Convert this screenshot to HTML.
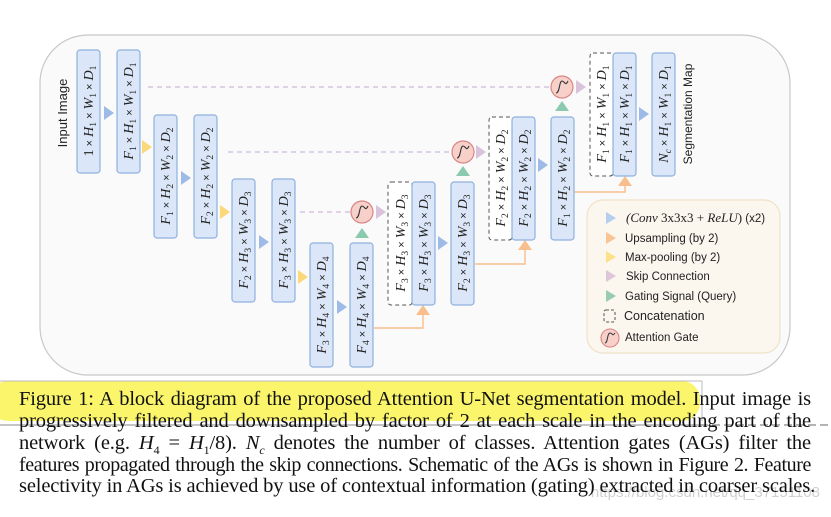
<!DOCTYPE html>
<html><head><meta charset="utf-8">
<style>
body{margin:0;width:831px;height:517px;background:#fff;position:relative;overflow:hidden}
svg{position:absolute;left:0;top:0}
.b{fill:#dbe7f8;stroke:#8eb0de;stroke-width:1.2}
.d{fill:#fff;stroke:#555;stroke-width:1;stroke-dasharray:4 3}
.t{font-family:"Liberation Serif",serif;font-style:italic;font-size:14px;fill:#222}
.s{font-size:9.5px;font-style:normal}
.x{font-family:"Liberation Sans",sans-serif;font-style:normal;font-size:11px}
.lg{font-family:"Liberation Sans",sans-serif;font-size:11.5px;fill:#222}
.cap{position:absolute;left:19px;width:792px;font-family:"Liberation Serif",serif;font-size:20.5px;letter-spacing:-0.15px;line-height:22px;color:#111;text-align:justify;text-align-last:justify;white-space:nowrap}
</style></head><body>
<svg width="831" height="517" viewBox="0 0 831 517">
<rect x="40" y="35" width="750" height="340" rx="48" fill="#fafafa" stroke="#c8c8c8" stroke-width="1.2"/>
<g stroke="#cdbbdb" stroke-width="1.3" stroke-dasharray="5 4" fill="none">
<line x1="148" y1="87" x2="550" y2="87"/>
<line x1="228" y1="152" x2="451" y2="152"/>
<line x1="300" y1="212" x2="350" y2="212"/>
</g>
<g stroke="#f8bf8c" stroke-width="1.4" fill="none">
<polyline points="374,328 423,328 423,314"/>
<polyline points="475,264 525,264 525,249"/>
<polyline points="574,192 625,192 625,185"/>
</g>
<g fill="#f8bf8c">
<polygon points="416,315 430,315 423,305"/>
<polygon points="518,250 532,250 525,240"/>
<polygon points="618,186 632,186 625,176"/>
</g>
<g fill="#9dbbe6">
<polygon points="104,106 104,120 114,113"/>
<polygon points="181,171 181,185 191,178"/>
<polygon points="259,235 259,249 269,242"/>
<polygon points="337,300 337,314 347,307"/>
<polygon points="438,236 438,250 448,243"/>
<polygon points="538,158 538,172 548,165"/>
<polygon points="639,107 639,121 649,114"/>
</g>
<g fill="#fbd97a">
<polygon points="142,140 142,154 152,147"/>
<polygon points="220,205 220,219 230,212"/>
<polygon points="298,270 298,284 308,277"/>
</g>
<g fill="#8ccab0">
<polygon points="355,238 369,238 362,228"/>
<polygon points="456,176 470,176 463,166"/>
<polygon points="555,111 569,111 562,101"/>
</g>
<g fill="#d9c3db">
<polygon points="376,205 376,219 386,212"/>
<polygon points="476,145 476,159 486,152"/>
<polygon points="576,80 576,94 586,87"/>
</g>
<g>
<circle cx="362" cy="212" r="11" fill="#f6d0c9" stroke="#d98585" stroke-width="1.2"/>
<path d="M356,218 C360,218 359,206 362,206 S365,212 368,206" fill="none" stroke="#333" stroke-width="1.1"/>
<circle cx="463" cy="152" r="11" fill="#f6d0c9" stroke="#d98585" stroke-width="1.2"/>
<path d="M457,158 C461,158 460,146 463,146 S466,152 469,146" fill="none" stroke="#333" stroke-width="1.1"/>
<circle cx="562" cy="87" r="11" fill="#f6d0c9" stroke="#d98585" stroke-width="1.2"/>
<path d="M556,93 C560,93 559,81 562,81 S565,87 568,81" fill="none" stroke="#333" stroke-width="1.1"/>
</g>
<rect class="b" x="77" y="50" width="23" height="123" rx="3"/>
<rect class="b" x="117" y="50" width="23" height="123" rx="3"/>
<rect class="b" x="154" y="115" width="23" height="123" rx="3"/>
<rect class="b" x="194" y="115" width="23" height="123" rx="3"/>
<rect class="b" x="232" y="179" width="23" height="123" rx="3"/>
<rect class="b" x="272" y="179" width="23" height="123" rx="3"/>
<rect class="b" x="310" y="243" width="23" height="124" rx="3"/>
<rect class="b" x="350" y="243" width="23" height="124" rx="3"/>
<rect class="d" x="388" y="182" width="24" height="123" rx="3"/>
<rect class="b" x="412" y="182" width="23" height="123" rx="3"/>
<rect class="b" x="451" y="182" width="23" height="123" rx="3"/>
<rect class="d" x="489" y="117" width="23" height="123" rx="3"/>
<rect class="b" x="512" y="117" width="23" height="123" rx="3"/>
<rect class="b" x="551" y="117" width="23" height="123" rx="3"/>
<rect class="d" x="590" y="53" width="23" height="123" rx="3"/>
<rect class="b" x="613" y="53" width="23" height="123" rx="3"/>
<rect class="b" x="652" y="53" width="23" height="123" rx="3"/>

<text class="t" transform="translate(93,111) rotate(-90)" text-anchor="middle"><tspan style="font-style:normal">1</tspan><tspan class="x"> × </tspan>H<tspan class="s" dy="3">1</tspan><tspan class="x" dy="-3"> × </tspan>W<tspan class="s" dy="3">1</tspan><tspan class="x" dy="-3"> × </tspan>D<tspan class="s" dy="3">1</tspan></text>
<text class="t" transform="translate(133,111) rotate(-90)" text-anchor="middle">F<tspan class="s" dy="3">1</tspan><tspan class="x" dy="-3"> × </tspan>H<tspan class="s" dy="3">1</tspan><tspan class="x" dy="-3"> × </tspan>W<tspan class="s" dy="3">1</tspan><tspan class="x" dy="-3"> × </tspan>D<tspan class="s" dy="3">1</tspan></text>
<text class="t" transform="translate(170,176) rotate(-90)" text-anchor="middle">F<tspan class="s" dy="3">1</tspan><tspan class="x" dy="-3"> × </tspan>H<tspan class="s" dy="3">2</tspan><tspan class="x" dy="-3"> × </tspan>W<tspan class="s" dy="3">2</tspan><tspan class="x" dy="-3"> × </tspan>D<tspan class="s" dy="3">2</tspan></text>
<text class="t" transform="translate(210,176) rotate(-90)" text-anchor="middle">F<tspan class="s" dy="3">2</tspan><tspan class="x" dy="-3"> × </tspan>H<tspan class="s" dy="3">2</tspan><tspan class="x" dy="-3"> × </tspan>W<tspan class="s" dy="3">2</tspan><tspan class="x" dy="-3"> × </tspan>D<tspan class="s" dy="3">2</tspan></text>
<text class="t" transform="translate(248,240) rotate(-90)" text-anchor="middle">F<tspan class="s" dy="3">2</tspan><tspan class="x" dy="-3"> × </tspan>H<tspan class="s" dy="3">3</tspan><tspan class="x" dy="-3"> × </tspan>W<tspan class="s" dy="3">3</tspan><tspan class="x" dy="-3"> × </tspan>D<tspan class="s" dy="3">3</tspan></text>
<text class="t" transform="translate(288,240) rotate(-90)" text-anchor="middle">F<tspan class="s" dy="3">3</tspan><tspan class="x" dy="-3"> × </tspan>H<tspan class="s" dy="3">3</tspan><tspan class="x" dy="-3"> × </tspan>W<tspan class="s" dy="3">3</tspan><tspan class="x" dy="-3"> × </tspan>D<tspan class="s" dy="3">3</tspan></text>
<text class="t" transform="translate(326,305) rotate(-90)" text-anchor="middle">F<tspan class="s" dy="3">3</tspan><tspan class="x" dy="-3"> × </tspan>H<tspan class="s" dy="3">4</tspan><tspan class="x" dy="-3"> × </tspan>W<tspan class="s" dy="3">4</tspan><tspan class="x" dy="-3"> × </tspan>D<tspan class="s" dy="3">4</tspan></text>
<text class="t" transform="translate(366,305) rotate(-90)" text-anchor="middle">F<tspan class="s" dy="3">4</tspan><tspan class="x" dy="-3"> × </tspan>H<tspan class="s" dy="3">4</tspan><tspan class="x" dy="-3"> × </tspan>W<tspan class="s" dy="3">4</tspan><tspan class="x" dy="-3"> × </tspan>D<tspan class="s" dy="3">4</tspan></text>
<text class="t" transform="translate(405,243) rotate(-90)" text-anchor="middle">F<tspan class="s" dy="3">3</tspan><tspan class="x" dy="-3"> × </tspan>H<tspan class="s" dy="3">3</tspan><tspan class="x" dy="-3"> × </tspan>W<tspan class="s" dy="3">3</tspan><tspan class="x" dy="-3"> × </tspan>D<tspan class="s" dy="3">3</tspan></text>
<text class="t" transform="translate(428,243) rotate(-90)" text-anchor="middle">F<tspan class="s" dy="3">3</tspan><tspan class="x" dy="-3"> × </tspan>H<tspan class="s" dy="3">3</tspan><tspan class="x" dy="-3"> × </tspan>W<tspan class="s" dy="3">3</tspan><tspan class="x" dy="-3"> × </tspan>D<tspan class="s" dy="3">3</tspan></text>
<text class="t" transform="translate(467,243) rotate(-90)" text-anchor="middle">F<tspan class="s" dy="3">2</tspan><tspan class="x" dy="-3"> × </tspan>H<tspan class="s" dy="3">3</tspan><tspan class="x" dy="-3"> × </tspan>W<tspan class="s" dy="3">3</tspan><tspan class="x" dy="-3"> × </tspan>D<tspan class="s" dy="3">3</tspan></text>
<text class="t" transform="translate(505,178) rotate(-90)" text-anchor="middle">F<tspan class="s" dy="3">2</tspan><tspan class="x" dy="-3"> × </tspan>H<tspan class="s" dy="3">2</tspan><tspan class="x" dy="-3"> × </tspan>W<tspan class="s" dy="3">2</tspan><tspan class="x" dy="-3"> × </tspan>D<tspan class="s" dy="3">2</tspan></text>
<text class="t" transform="translate(528,178) rotate(-90)" text-anchor="middle">F<tspan class="s" dy="3">2</tspan><tspan class="x" dy="-3"> × </tspan>H<tspan class="s" dy="3">2</tspan><tspan class="x" dy="-3"> × </tspan>W<tspan class="s" dy="3">2</tspan><tspan class="x" dy="-3"> × </tspan>D<tspan class="s" dy="3">2</tspan></text>
<text class="t" transform="translate(567,178) rotate(-90)" text-anchor="middle">F<tspan class="s" dy="3">1</tspan><tspan class="x" dy="-3"> × </tspan>H<tspan class="s" dy="3">2</tspan><tspan class="x" dy="-3"> × </tspan>W<tspan class="s" dy="3">2</tspan><tspan class="x" dy="-3"> × </tspan>D<tspan class="s" dy="3">2</tspan></text>
<text class="t" transform="translate(606,114) rotate(-90)" text-anchor="middle">F<tspan class="s" dy="3">1</tspan><tspan class="x" dy="-3"> × </tspan>H<tspan class="s" dy="3">1</tspan><tspan class="x" dy="-3"> × </tspan>W<tspan class="s" dy="3">1</tspan><tspan class="x" dy="-3"> × </tspan>D<tspan class="s" dy="3">1</tspan></text>
<text class="t" transform="translate(629,114) rotate(-90)" text-anchor="middle">F<tspan class="s" dy="3">1</tspan><tspan class="x" dy="-3"> × </tspan>H<tspan class="s" dy="3">1</tspan><tspan class="x" dy="-3"> × </tspan>W<tspan class="s" dy="3">1</tspan><tspan class="x" dy="-3"> × </tspan>D<tspan class="s" dy="3">1</tspan></text>
<text class="t" transform="translate(668,114) rotate(-90)" text-anchor="middle">N<tspan class="s" dy="3" style="font-style:italic">c</tspan><tspan class="x" dy="-3"> × </tspan>H<tspan class="s" dy="3">1</tspan><tspan class="x" dy="-3"> × </tspan>W<tspan class="s" dy="3">1</tspan><tspan class="x" dy="-3"> × </tspan>D<tspan class="s" dy="3">1</tspan></text>

<text class="lg" transform="translate(67,113) rotate(-90)" text-anchor="middle" style="font-size:13px">Input Image</text>
<text class="lg" transform="translate(692,114) rotate(-90)" text-anchor="middle" style="font-size:12px">Segmentation Map</text>

<rect x="587" y="200" width="193" height="153" rx="16" fill="#fbf6ee" stroke="#efe2c8" stroke-width="1.2"/>
<polygon points="606,212 606,224 616,218" fill="#b5cdee"/>
<polygon points="606,232 606,244 616,238" fill="#fbc494"/>
<polygon points="606,251 606,263 616,257" fill="#fde08a"/>
<polygon points="606,270 606,282 616,276" fill="#dcc6d8"/>
<polygon points="606,290 606,302 616,296" fill="#98cbb4"/>
<rect x="604" y="310" width="11" height="12" rx="2" fill="none" stroke="#555" stroke-dasharray="3 2"/>
<circle cx="610" cy="338" r="9" fill="#f6d0c9" stroke="#d98585" stroke-width="1.1"/>
<path d="M605,343 C608,343 607,333 610,333 S612,337 615,333" fill="none" stroke="#333"/>
<text class="lg" x="626" y="222"><tspan font-family="Liberation Serif" font-style="italic" font-size="13">(Conv</tspan><tspan font-family="Liberation Serif" font-size="13"> 3x3x3 + </tspan><tspan font-family="Liberation Serif" font-style="italic" font-size="13">ReLU</tspan><tspan font-family="Liberation Serif" font-size="13">)</tspan> (x2)</text>
<text class="lg" x="625" y="242">Upsampling (by 2)</text>
<text class="lg" x="625" y="261">Max-pooling (by 2)</text>
<text class="lg" x="626" y="280">Skip Connection</text>
<text class="lg" x="625" y="300">Gating Signal (Query)</text>
<text class="lg" x="624" y="320" style="font-size:12.5px">Concatenation</text>
<text class="lg" x="625" y="341">Attention Gate</text>

<rect x="-10" y="381" width="710" height="40" rx="18" fill="#fbf56c"/>
<line x1="0" y1="381" x2="702" y2="381" stroke="#bbb" stroke-width="1"/>
<line x1="702" y1="381" x2="702" y2="421" stroke="#bbb" stroke-width="1"/>
<line x1="0" y1="425" x2="700" y2="425" stroke="#888" stroke-width="1"/>
<line x1="700" y1="425" x2="831" y2="425" stroke="#888" stroke-width="1.2" stroke-dasharray="8 4"/>
<text x="820" y="497" text-anchor="end" font-family="Liberation Sans,sans-serif" font-size="15" fill="#d0d0d0">https://blog.csdn.net/qq_37151108</text>
</svg>
<div class="cap" style="top:388px">Figure 1: A block diagram of the proposed Attention U-Net segmentation model. Input image is</div>
<div class="cap" style="top:410px">progressively filtered and downsampled by factor of 2 at each scale in the encoding part of the</div>
<div class="cap" style="top:432px">network (e.g. <i>H</i><sub style="font-size:12px">4</sub> = <i>H</i><sub style="font-size:12px">1</sub>/8). <i>N<sub style="font-size:12px">c</sub></i> denotes the number of classes. Attention gates (AGs) filter the</div>
<div class="cap" style="top:454px;font-size:20px;letter-spacing:-0.4px">features propagated through the skip connections. Schematic of the AGs is shown in Figure 2. Feature</div>
<div class="cap" style="top:475px">selectivity in AGs is achieved by use of contextual information (gating) extracted in coarser scales.</div>
</body></html>
